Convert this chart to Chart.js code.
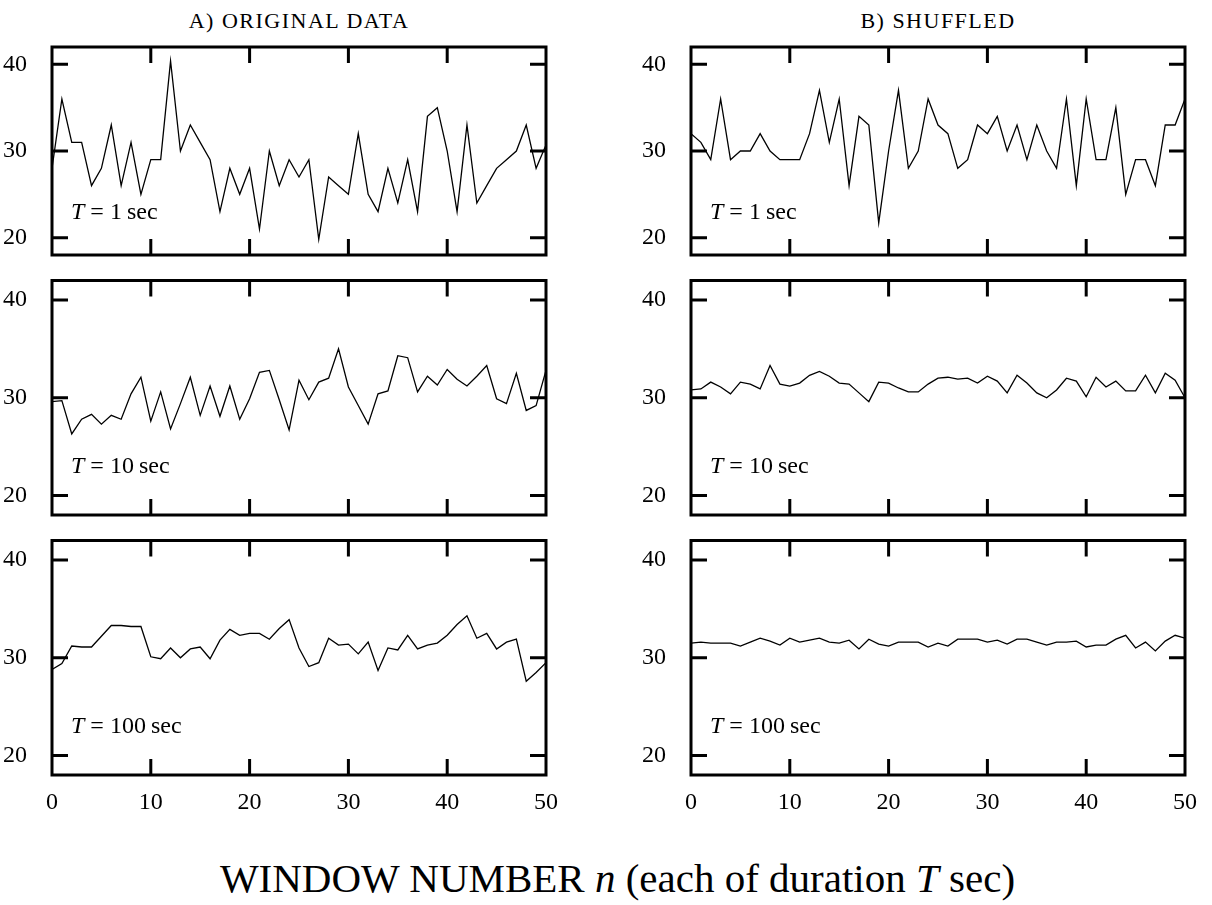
<!DOCTYPE html>
<html>
<head>
<meta charset="utf-8">
<script src="https://cdn.jsdelivr.net/npm/chart.js@4/dist/chart.umd.min.js"></script>
<style>
    body { margin: 0; background: #fff; }
    #page { position: relative; width: 1212px; height: 905px; font-family: "Liberation Serif", "DejaVu Serif", serif; color: #000; }
    canvas { position: absolute; }
    .naslov { position: absolute; top: 8px; font-size: 22px; text-align: center; width: 494px; letter-spacing: 1.5px; }
    .oznaka { position: absolute; font-size: 24px; white-space: nowrap; }
    .oznaka .jed { margin: 0 6px; }
    .oznaka .sec { margin-left: 5px; }
    #osX { position: absolute; top: 854px; left: 0; width: 1235px; text-align: center; font-size: 41px; }
</style>
</head>
<body>
<div id="page">
    <div class="naslov" style="left:52px">A) ORIGINAL DATA</div>
    <div class="naslov" style="left:691px">B) SHUFFLED</div>
    <div id="osX">WINDOW NUMBER <i>n</i> (each of duration <i>T</i> sec)</div>
</div>
<script>
// broj prozora n
const prozori = Array.from({length: 51}, (_, i) => i);
const xTicks = [0, 10, 20, 30, 40, 50];
const yTicks = [20, 30, 40];
const trajanja = ["1", "10", "100"];

// A) originalni podaci
const orig1 = [28,36,31,31,26,28,33,26,31,25,29,29,40.4,30,33,31,29,23,28,25,28,21,30,26,29,27,
    29,19.8,27,26,25,32,25,23,28,24,29,23,34,35,30,23,33,24,26,28,29,30,33,28,30.7];
const orig10 = [29.6,29.7,26.3,27.8,28.3,27.3,28.2,27.8,30.4,32.1,27.6,30.6,26.8,29.4,32.1,28.2,31.2,28.1,31.2,27.8,29.9,32.6,32.8,29.8,26.7,31.8,
    29.8,31.6,32.0,35.0,31.1,29.2,27.3,30.4,30.7,34.3,34.1,30.6,32.2,31.3,32.9,31.9,31.2,32.2,33.3,29.9,29.4,32.5,28.7,29.2,32.8];
const orig100 = [28.8,29.4,31.2,31.1,31.1,32.2,33.3,33.3,33.2,33.2,30.1,29.9,31.0,30.0,30.9,31.1,29.9,31.8,32.9,32.3,32.5,32.5,31.9,33.0,33.9,31.0,
    29.1,29.5,32.0,31.3,31.4,30.4,31.6,28.7,31.0,30.8,32.3,30.9,31.3,31.5,32.3,33.4,34.3,32.0,32.5,30.9,31.6,31.9,27.6,28.5,29.5];

// B) izmijesani podaci
const mij1 = [32,31,29,36,29,30,30,32,30,29,29,29,32,37,31,36,26,34,33,21.7,30,37,28,30,36,33,
    32,28,29,33,32,34,30,33,29,33,30,28,36,26,36,29,29,35,25,29,29,26,33,33,36];
const mij10 = [30.8,30.9,31.6,31.1,30.4,31.6,31.4,30.9,33.3,31.4,31.2,31.5,32.3,32.7,32.2,31.5,31.4,30.5,29.6,31.6,31.5,31.0,30.6,30.6,31.4,32.0,
    32.1,31.9,32.0,31.5,32.2,31.7,30.5,32.3,31.5,30.5,30.0,30.8,32.0,31.7,30.1,32.1,31.1,31.7,30.7,30.7,32.3,30.5,32.5,31.8,30.0];
const mij100 = [31.5,31.6,31.5,31.5,31.5,31.2,31.6,32.0,31.7,31.3,32.0,31.6,31.8,32.0,31.6,31.5,31.8,30.9,31.9,31.4,31.2,31.6,31.6,31.6,31.1,31.5,
    31.2,31.9,31.9,31.9,31.6,31.8,31.4,31.9,31.9,31.6,31.3,31.6,31.6,31.7,31.1,31.3,31.3,31.9,32.3,31.0,31.6,30.7,31.7,32.3,32.0];

const nizovi = [[orig1, mij1], [orig10, mij10], [orig100, mij100]];

// okvir i crtice prema unutra
const okvirPlugin = {
    id: 'okvir',
    afterDatasetsDraw(chart) {
        const ctx = chart.ctx;
        const a = chart.chartArea;
        const sx = chart.scales.x, sy = chart.scales.y;
        const d = 16;
        ctx.save();
        ctx.strokeStyle = '#000';
        ctx.lineWidth = 3;
        ctx.strokeRect(a.left, a.top, a.right - a.left, a.bottom - a.top);
        ctx.beginPath();
        xTicks.forEach(v => {
            if (v <= sx.min || v >= sx.max) return;
            let px = sx.getPixelForValue(v);
            ctx.moveTo(px, a.top); ctx.lineTo(px, a.top + d);
            ctx.moveTo(px, a.bottom); ctx.lineTo(px, a.bottom - d);
        });
        yTicks.forEach(v => {
            let py = sy.getPixelForValue(v);
            ctx.moveTo(a.left, py); ctx.lineTo(a.left + d, py);
            ctx.moveTo(a.right, py); ctx.lineTo(a.right - d, py);
        });
        ctx.stroke();
        ctx.restore();
    }
};

// raspored redova: vrh canvasa, razmak do podrucja, visina podrucja
const redovi = [
    {top: 37, pad: 10, visina: 208},
    {top: 270, pad: 10.5, visina: 234.5},
    {top: 530, pad: 10.5, visina: 234.5}
];
const kolone = [0, 639];
const oznakeY = [213, 467, 727];

const page = document.getElementById("page");

redovi.forEach((red, r) => {
    kolone.forEach((lijevo, k) => {
        const donji = r == 2;
        const xVisina = donji ? 40 : 0;
        const visinaCanvasa = Math.round(red.pad + red.visina + xVisina + (donji ? 0 : 10));

        let canvas = document.createElement("canvas");
        canvas.width = 571;
        canvas.height = visinaCanvasa;
        canvas.style.left = lijevo + "px";
        canvas.style.top = red.top + "px";
        page.appendChild(canvas);

        let oznaka = document.createElement("div");
        oznaka.className = "oznaka";
        oznaka.style.left = (lijevo + 71) + "px";
        oznaka.style.top = (oznakeY[r] - 15) + "px";
        oznaka.innerHTML = "<i>T</i><span class=\"jed\">=</span>" + trajanja[r] + "<span class=\"sec\">sec</span>";
        page.appendChild(oznaka);

        new Chart(canvas, {
            type: 'line',
            data: {
                datasets: [{
                    data: nizovi[r][k].map((v, i) => ({x: prozori[i], y: v})),
                    borderColor: '#000',
                    borderWidth: 1.3,
                    pointRadius: 0,
                    tension: 0,
                    fill: false
                }]
            },
            options: {
                responsive: false,
                animation: false,
                events: [],
                layout: {
                    padding: {top: red.pad, right: 25, bottom: donji ? 0 : 10, left: 0}
                },
                plugins: {
                    legend: { display: false },
                    tooltip: { enabled: false }
                },
                scales: {
                    x: {
                        type: 'linear',
                        min: 0,
                        max: 50,
                        grid: { display: false },
                        border: { display: false },
                        afterBuildTicks: s => { s.ticks = xTicks.map(v => ({value: v})); },
                        afterFit: s => {
                            s.height = xVisina;
                            s.paddingLeft = 0; s.paddingRight = 0;
                        },
                        ticks: {
                            display: donji,
                            color: '#000',
                            padding: 5,
                            maxRotation: 0,
                            font: { family: "Liberation Serif", size: 24 }
                        }
                    },
                    y: {
                        min: 18,
                        max: 42,
                        grid: { display: false },
                        border: { display: false },
                        afterBuildTicks: s => { s.ticks = yTicks.map(v => ({value: v})); },
                        afterFit: s => {
                            s.width = 52;
                            s.paddingTop = 0; s.paddingBottom = 0;
                        },
                        ticks: {
                            color: '#000',
                            padding: 17,
                            font: { family: "Liberation Serif", size: 24 }
                        }
                    }
                }
            },
            plugins: [okvirPlugin]
        });
    });
});
</script>
</body>
</html>
